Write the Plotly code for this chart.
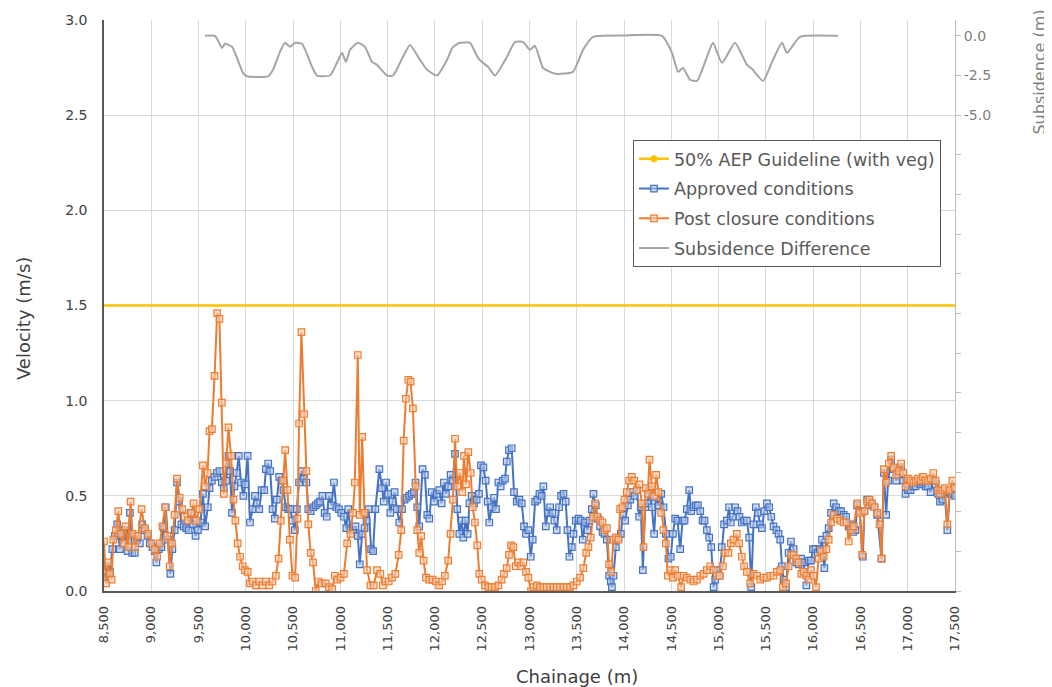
import plotly.graph_objects as go
import numpy as np

# ---------------- data ----------------
approved_ch = [8511, 8535, 8563, 8588, 8616, 8640, 8668, 8693, 8714, 8749, 8774, 8798, 8826, 8851, 8879, 8904, 8932, 8960, 8984,
               9012, 9037, 9054, 9079, 9107, 9132, 9153, 9177, 9202, 9223, 9247, 9272, 9293, 9318, 9342, 9370, 9395, 9416, 9440,
               9468, 9493, 9521, 9546, 9570, 9598, 9616, 9641, 9669, 9693, 9721, 9746, 9767, 9791, 9816, 9833, 9854, 9879, 9903,
               9925, 9949, 9974, 9995, 10019, 10044, 10072, 10097, 10118, 10142, 10167, 10195, 10212, 10237, 10258, 10283, 10307,
               10328, 10353, 10377, 10398, 10423, 10447, 10468, 10493, 10518, 10539, 10563, 10591, 10616, 10640, 10661, 10686,
               10714, 10739, 10763, 10784, 10809, 10833, 10855, 10879, 10904, 10932, 10956, 10984, 11009, 11037, 11062, 11083,
               11107, 11132, 11160, 11184, 11205, 11230, 11255, 11276, 11300, 11325, 11346, 11370, 11412, 11441, 11458, 11483,
               11504, 11528, 11553, 11574, 11598, 11623, 11651, 11679, 11700, 11728, 11753, 11778, 11795, 11813, 11834, 11869,
               11894, 11919, 11940, 11965, 11989, 12018, 12046, 12071, 12095, 12116, 12141, 12166, 12187, 12212, 12236, 12258,
               12282, 12300, 12325, 12346, 12364, 12388, 12413, 12441, 12466, 12487, 12512, 12536, 12558, 12575, 12600, 12625,
               12646, 12671, 12695, 12716, 12741, 12759, 12783, 12812, 12836, 12865, 12893, 12918, 12942, 12963, 12988, 13013,
               13034, 13059, 13083, 13105, 13129, 13147, 13172, 13193, 13218, 13242, 13263, 13288, 13313, 13334, 13359, 13383,
               13401, 13422, 13447, 13465, 13489, 13518, 13542, 13563, 13588, 13613, 13634, 13659, 13676, 13701, 13722, 13747,
               13772, 13793, 13818, 13842, 13860, 13871, 13888, 13913, 13941, 13966, 13987, 14012, 14040, 14065, 14089, 14110,
               14135, 14160, 14177, 14199, 14223, 14248, 14269, 14294, 14318, 14340, 14364, 14393, 14417, 14442, 14470, 14494,
               14516, 14541, 14565, 14594, 14619, 14640, 14664, 14689, 14710, 14735, 14760, 14781, 14806, 14830, 14851, 14876,
               14901, 14922, 14947, 14964, 14989, 15010, 15033, 15058, 15087, 15111, 15129, 15150, 15175, 15200, 15221, 15245,
               15270, 15299, 15323, 15345, 15369, 15394, 15415, 15440, 15458, 15482, 15511, 15535, 15557, 15581, 15610, 15634,
               15652, 15670, 15687, 15712, 15740, 15765, 15793, 15822, 15846, 15871, 15899, 15928, 15952, 15977, 15998, 16023,
               16048, 16069, 16094, 16118, 16140, 16164, 16189, 16217, 16242, 16270, 16295, 16323, 16348, 16376, 16401, 16422,
               16447, 16465, 16493, 16525, 16542, 16571, 16596, 16624, 16648, 16677, 16723, 16748, 16772, 16793, 16825, 16853,
               16878, 16907, 16931, 16952, 16977, 17002, 17030, 17058, 17083, 17108, 17136, 17161, 17189, 17214, 17242, 17270,
               17295, 17320, 17341, 17366, 17391, 17419, 17444, 17472, 17500]
approved_v = [0.07, 0.13, 0.10, 0.22, 0.29, 0.35, 0.22, 0.29, 0.32, 0.21, 0.41, 0.20, 0.20, 0.29, 0.25, 0.35, 0.32, 0.29, 0.25,
              0.23, 0.21, 0.15, 0.22, 0.23, 0.33, 0.44, 0.27, 0.09, 0.22, 0.32, 0.57, 0.47, 0.35, 0.34, 0.33, 0.32, 0.41, 0.35,
              0.29, 0.32, 0.36, 0.51, 0.34, 0.44, 0.54, 0.58, 0.60, 0.62, 0.63, 0.57, 0.54, 0.58, 0.71, 0.63, 0.41, 0.55, 0.62,
              0.71, 0.57, 0.50, 0.56, 0.71, 0.36, 0.43, 0.50, 0.46, 0.43, 0.53, 0.53, 0.64, 0.67, 0.63, 0.43, 0.38,
              0.48, 0.60, 0.58, 0.53, 0.44, 0.43, 0.43, 0.37, 0.32, 0.43, 0.57, 0.63, 0.59, 0.57, 0.43, 0.42,
              0.44, 0.45, 0.46, 0.47, 0.50, 0.41, 0.39, 0.50, 0.45, 0.57, 0.44, 0.43, 0.41, 0.39, 0.33, 0.43,
              0.32, 0.32, 0.34, 0.29, 0.14, 0.30, 0.33, 0.37, 0.43, 0.22, 0.21, 0.43, 0.64, 0.54, 0.47, 0.57,
              0.51, 0.41, 0.47, 0.52, 0.43, 0.36, 0.43, 0.48, 0.49, 0.50, 0.51, 0.52, 0.57, 0.44, 0.34, 0.64,
              0.61, 0.40, 0.38, 0.52, 0.47, 0.51, 0.53, 0.46, 0.57, 0.51, 0.55, 0.61, 0.58, 0.72, 0.43, 0.30,
              0.37, 0.28, 0.37, 0.30, 0.46, 0.50, 0.46, 0.48, 0.51, 0.66, 0.65, 0.58, 0.47, 0.36, 0.44, 0.49,
              0.43, 0.57, 0.55, 0.58, 0.59, 0.68, 0.74, 0.75, 0.52, 0.47, 0.48, 0.46, 0.34, 0.30, 0.32, 0.18,
              0.27, 0.47, 0.48, 0.51, 0.50, 0.55, 0.34, 0.41, 0.44, 0.41, 0.37, 0.32, 0.44, 0.50, 0.51, 0.47,
              0.32, 0.18, 0.23, 0.30, 0.37, 0.38, 0.37, 0.27, 0.36, 0.32, 0.37, 0.43, 0.51, 0.45, 0.38, 0.34,
              0.31, 0.30, 0.27, 0.08, 0.05, 0.02, 0.08, 0.23, 0.28, 0.30, 0.40, 0.37, 0.45, 0.48, 0.52, 0.50,
              0.53, 0.39, 0.44, 0.11, 0.44, 0.46, 0.53, 0.44, 0.30, 0.49, 0.45, 0.51, 0.44, 0.30, 0.17, 0.18,
              0.30, 0.38, 0.37, 0.22, 0.37, 0.37, 0.43, 0.53, 0.42, 0.44, 0.45, 0.45, 0.42, 0.37, 0.37, 0.32,
              0.28, 0.23, 0.02, 0.06, 0.11, 0.08, 0.23, 0.35, 0.37, 0.44, 0.36, 0.39, 0.44, 0.42, 0.39, 0.36,
              0.37, 0.37, 0.28, 0.02, 0.35, 0.44, 0.41, 0.35, 0.33, 0.42, 0.46, 0.44, 0.39, 0.34, 0.32, 0.30,
              0.27, 0.13, 0.06, 0.02, 0.20, 0.26, 0.22, 0.15, 0.14, 0.17, 0.15, 0.03, 0.16, 0.16, 0.22, 0.22,
              0.20, 0.22, 0.27, 0.12, 0.29, 0.33, 0.41, 0.46, 0.44, 0.42, 0.42, 0.40, 0.39, 0.34, 0.35, 0.31,
              0.32, 0.45, 0.42, 0.18, 0.42, 0.48, 0.47, 0.45, 0.44, 0.40, 0.17, 0.62, 0.40, 0.58, 0.69, 0.64,
              0.58, 0.61, 0.65, 0.58, 0.51, 0.53, 0.53, 0.55, 0.55, 0.57, 0.56, 0.57, 0.55, 0.55, 0.52, 0.58,
              0.56, 0.51, 0.47, 0.48, 0.51, 0.32, 0.52, 0.51, 0.50]

post_ch = [8500, 8521, 8546, 8563, 8581, 8598, 8626, 8651, 8675, 8704, 8728, 8756, 8781, 8802, 8830, 8861, 8897, 8932, 8967,
           9002, 9037, 9061, 9090, 9118, 9146, 9170, 9195, 9219, 9247, 9272, 9300, 9328, 9353, 9388, 9423, 9447, 9476, 9511,
           9546, 9570, 9595, 9616, 9641, 9669, 9697, 9721, 9746, 9767, 9791, 9816, 9844, 9869, 9890, 9914, 9939, 9967, 9991,
           10019, 10044, 10072, 10107, 10142, 10177, 10212, 10247, 10282, 10317, 10346, 10370, 10395, 10416, 10440, 10465,
           10493, 10521, 10546, 10563, 10588, 10616, 10640, 10661, 10686, 10711, 10739, 10767, 10802, 10844, 10879, 10914,
           10942, 10967, 11002, 11037, 11072, 11107, 11132, 11153, 11184, 11205, 11230, 11255, 11283, 11318, 11353, 11388,
           11423, 11448, 11476, 11511, 11546, 11581, 11616, 11644, 11669, 11693, 11718, 11742, 11767, 11795, 11813, 11834,
           11855, 11880, 11905, 11940, 11975, 12010, 12045, 12075, 12105, 12140, 12165, 12190, 12212, 12236, 12265, 12289,
           12307, 12328, 12353, 12378, 12399, 12423, 12448, 12469, 12494, 12529, 12565, 12600, 12635, 12671, 12706, 12730,
           12759, 12783, 12805, 12829, 12854, 12882, 12907, 12935, 12963, 12988, 13016, 13041, 13076, 13112, 13147, 13182,
           13218, 13253, 13288, 13323, 13359, 13394, 13429, 13465, 13500, 13535, 13570, 13599, 13623, 13648, 13669, 13694,
           13719, 13747, 13772, 13793, 13818, 13842, 13863, 13888, 13913, 13941, 13959, 13983, 14004, 14029, 14054, 14082,
           14107, 14135, 14163, 14188, 14206, 14230, 14251, 14269, 14294, 14318, 14340, 14364, 14393, 14417, 14442, 14463,
           14488, 14516, 14541, 14569, 14604, 14629, 14664, 14700, 14735, 14770, 14806, 14841, 14876, 14911, 14947, 14982,
           15010, 15044, 15069, 15104, 15129, 15157, 15192, 15217, 15245, 15270, 15299, 15334, 15369, 15405, 15440, 15475,
           15511, 15546, 15581, 15617, 15652, 15680, 15712, 15740, 15765, 15793, 15822, 15846, 15875, 15899, 15928, 15952,
           15977, 16005, 16030, 16058, 16083, 16111, 16140, 16164, 16189, 16217, 16253, 16288, 16323, 16352, 16376, 16405,
           16429, 16465, 16493, 16518, 16542, 16571, 16596, 16624, 16648, 16677, 16702, 16723, 16748, 16772, 16800, 16825,
           16853, 16878, 16907, 16931, 16952, 16977, 17002, 17030, 17058, 17083, 17108, 17136, 17161, 17189, 17214, 17242,
           17270, 17295, 17320, 17341, 17366, 17391, 17419, 17444, 17472, 17500]
post_v = [0.26, 0.04, 0.15, 0.09, 0.06, 0.27, 0.32, 0.42, 0.30, 0.25, 0.34, 0.23, 0.47, 0.30, 0.23, 0.29, 0.43, 0.33, 0.30,
          0.25, 0.22, 0.18, 0.25, 0.34, 0.44, 0.29, 0.13, 0.25, 0.40, 0.59, 0.49, 0.43, 0.39, 0.37, 0.41, 0.46, 0.37, 0.43,
          0.66, 0.55, 0.62, 0.84, 0.85, 1.13, 1.46, 1.43, 0.99, 0.51, 0.67, 0.86, 0.71, 0.48, 0.37, 0.25, 0.18, 0.13, 0.11,
          0.10, 0.04, 0.05, 0.03, 0.05, 0.03, 0.05, 0.03, 0.05, 0.08, 0.17, 0.37, 0.58, 0.74, 0.53, 0.27,
          0.08, 0.07, 0.38, 0.88, 1.36, 0.93, 0.63, 0.35, 0.20, 0.15, 0.00, 0.05, 0.04, 0.04, 0.02, 0.01,
          0.08, 0.06, 0.07, 0.09, 0.25, 0.30, 0.41, 0.57, 1.24, 0.40, 0.81, 0.41, 0.11, 0.03, 0.03, 0.11,
          0.09, 0.03, 0.05, 0.05, 0.07, 0.09, 0.19, 0.32, 0.79, 1.01, 1.11, 1.10, 0.96, 0.55, 0.32, 0.20,
          0.29, 0.16, 0.07, 0.06, 0.06, 0.05, 0.03, 0.05, 0.08, 0.16, 0.30, 0.48, 0.80, 0.55, 0.62, 0.52,
          0.71, 0.56, 0.73, 0.62, 0.44, 0.36, 0.24, 0.09, 0.06, 0.03, 0.02, 0.02, 0.02, 0.03, 0.06, 0.09,
          0.12, 0.19, 0.24, 0.23, 0.13, 0.15, 0.13, 0.15, 0.10, 0.07, 0.00, 0.02, 0.03, 0.02, 0.02, 0.02,
          0.02, 0.02, 0.02, 0.02, 0.02, 0.02, 0.02, 0.03, 0.05, 0.07, 0.12, 0.20, 0.23, 0.28, 0.39, 0.46,
          0.39, 0.37, 0.36, 0.32, 0.33, 0.14, 0.10, 0.27, 0.28, 0.27, 0.43, 0.44, 0.48, 0.52, 0.58, 0.60,
          0.58, 0.53, 0.56, 0.46, 0.23, 0.54, 0.51, 0.69, 0.55, 0.50, 0.61, 0.52, 0.41, 0.32, 0.25, 0.08,
          0.11, 0.07, 0.11, 0.08, 0.02, 0.08, 0.07, 0.06, 0.05, 0.06, 0.08, 0.09, 0.11, 0.13, 0.11, 0.08,
          0.08, 0.13, 0.20, 0.20, 0.25, 0.27, 0.30, 0.25, 0.18, 0.13, 0.10, 0.04, 0.09, 0.08, 0.06, 0.07,
          0.07, 0.08, 0.08, 0.10, 0.11, 0.02, 0.04, 0.13, 0.19, 0.19, 0.17, 0.15, 0.09, 0.10, 0.08, 0.06,
          0.11, 0.08, 0.02, 0.17, 0.21, 0.18, 0.22, 0.27, 0.36, 0.40, 0.38, 0.37, 0.36, 0.36, 0.26, 0.32,
          0.34, 0.46, 0.41, 0.19, 0.42, 0.47, 0.48, 0.46, 0.44, 0.41, 0.35, 0.17, 0.64, 0.57, 0.67, 0.71,
          0.65, 0.61, 0.63, 0.67, 0.62, 0.55, 0.59, 0.58, 0.57, 0.58, 0.59, 0.58, 0.60, 0.58, 0.58, 0.59,
          0.62, 0.58, 0.53, 0.51, 0.53, 0.54, 0.35, 0.53, 0.58, 0.54]

subs_ch = [9568, 9674, 9748, 9780, 9854, 9970, 10012, 10234, 10287, 10361, 10414, 10467, 10520, 10594, 10700, 10753,
           10890, 10964, 11017, 11059, 11102, 11186, 11260, 11334, 11387, 11493, 11557, 11662, 11736, 11842, 11916,
           12022, 12128, 12191, 12265, 12371, 12455, 12508, 12561, 12635, 12762, 12847, 12931, 13005, 13058, 13143,
           13217, 13291, 13460, 13566, 13672, 13989, 14401, 14507, 14571, 14624, 14698, 14772, 14877, 14941, 15036,
           15173, 15300, 15353, 15470, 15575, 15671, 15724, 15861, 16263]
subs_v = [0.0, 0.0, -0.76, -0.5, -0.69, -2.33, -2.55, -2.55, -2.14, -1.01, -0.44, -0.69, -0.44, -0.5, -1.95, -2.5,
          -2.5, -1.7, -1.07, -1.64, -0.88, -0.44, -0.69, -1.64, -1.83, -2.5, -2.5, -1.32, -0.57, -1.51, -2.14,
          -2.5, -1.51, -0.69, -0.44, -0.44, -1.39, -1.7, -1.95, -2.5, -1.32, -0.38, -0.38, -0.88, -0.63, -2.02,
          -2.27, -2.4, -2.27, -0.88, -0.06, 0.03, 0.0, -1.07, -2.27, -2.02, -2.77, -2.84, -1.32, -0.44, -1.7,
          -0.44, -1.83, -2.08, -2.84, -1.51, -0.44, -1.07, -0.06, 0.0]

guideline_ch = [8500, 17500]
guideline_v = [1.5, 1.5]

x_ticks = list(range(8500, 17501, 500))
y2_ticks = list(np.arange(0, -35.01, -2.5))
y2_labels = ["0.0", "-2.5", "-5.0"] + [""] * (len(y2_ticks) - 3)

FONT = "DejaVu Sans"
BLUE = "#4472C4"
ORANGE = "#ED7D31"
GREY = "#A5A5A5"
GOLD = "#FFC000"

fig = go.Figure()

# guideline line (no markers) + legend entry with marker
fig.add_trace(go.Scatter(x=guideline_ch, y=guideline_v, mode="lines",
                         line=dict(color=GOLD, width=2.5), showlegend=False,
                         legendgroup="g1", hoverinfo="skip"))
fig.add_trace(go.Scatter(x=[None], y=[None], mode="lines+markers", name="50% AEP Guideline (with veg)",
                         line=dict(color=GOLD, width=2.5), marker=dict(color=GOLD, size=7, symbol="circle"),
                         legendgroup="g1"))

fig.add_trace(go.Scatter(x=approved_ch, y=approved_v, mode="lines+markers", name="Approved conditions",
                         line=dict(color=BLUE, width=2),
                         marker=dict(symbol="square", size=6.5, color="rgba(180,199,231,0.6)",
                                     line=dict(color=BLUE, width=1.2)),
                         legendgroup="g2"))
fig.add_trace(go.Scatter(x=post_ch, y=post_v, mode="lines+markers", name="Post closure conditions",
                         line=dict(color=ORANGE, width=2),
                         marker=dict(symbol="square", size=6.5, color="rgba(248,203,173,0.6)",
                                     line=dict(color=ORANGE, width=1.2)),
                         legendgroup="g3"))
fig.add_trace(go.Scatter(x=subs_ch, y=subs_v, mode="lines", name="Subsidence Difference", yaxis="y2",
                         line=dict(color=GREY, width=2, shape="spline", smoothing=0.5),
                         legendgroup="g4"))

# page body has an 8px margin: figure is sized/margined so the plot area lands where the reference has it
fig.update_layout(
    width=1044, height=679,
    margin=dict(l=96, r=97, t=12, b=96, autoexpand=False),
    paper_bgcolor="white", plot_bgcolor="white",
    font=dict(family=FONT, size=14, color="#404040"),
    xaxis=dict(range=[8500, 17500], tickvals=x_ticks, tickformat=",", tickangle=-90,
               showgrid=True, gridcolor="#D9D9D9", gridwidth=1, automargin=False,
               showline=True, linecolor="#595959", linewidth=1.5, zeroline=False,
               ticks="", ticklabelstandoff=8, tickfont=dict(size=13, color="#404040")),
    yaxis=dict(range=[0, 3], dtick=0.5, tickformat=".1f", automargin=False,
               showgrid=True, gridcolor="#D9D9D9", gridwidth=1,
               showline=True, linecolor="#595959", linewidth=1.5, zeroline=False,
               ticks="", ticklabelstandoff=12, tickfont=dict(size=14, color="#404040")),
    yaxis2=dict(overlaying="y", side="right", range=[-35, 1], automargin=False,
                tickvals=y2_ticks, ticktext=y2_labels, showgrid=False, zeroline=False,
                showline=True, linecolor="#BFBFBF", linewidth=1,
                ticks="outside", ticklen=5, tickcolor="#BFBFBF",
                tickfont=dict(size=14, color="#7F7F7F")),
    legend=dict(x=0.6216, y=0.79, xanchor="left", yanchor="top",
                bgcolor="white", bordercolor="#595959", borderwidth=1,
                font=dict(size=17.5, color="#595959", family=FONT),
                traceorder="grouped", tracegroupgap=4),
    annotations=[
        dict(text="Velocity (m/s)", xref="paper", yref="paper", x=-0.0952, y=0.478,
             textangle=-90, showarrow=False, font=dict(size=18, color="#404040"),
             xanchor="center", yanchor="middle"),
        dict(text="Chainage (m)", xref="paper", yref="paper", x=0.5558, y=-0.149,
             showarrow=False, font=dict(size=18, color="#404040"),
             xanchor="center", yanchor="middle"),
        dict(text="Subsidence (m)", xref="paper", yref="paper", x=1.0999, y=0.908,
             textangle=-90, showarrow=False, font=dict(size=16, color="#7F7F7F"),
             xanchor="center", yanchor="middle"),
    ],
)

fig.write_html("out.html")
